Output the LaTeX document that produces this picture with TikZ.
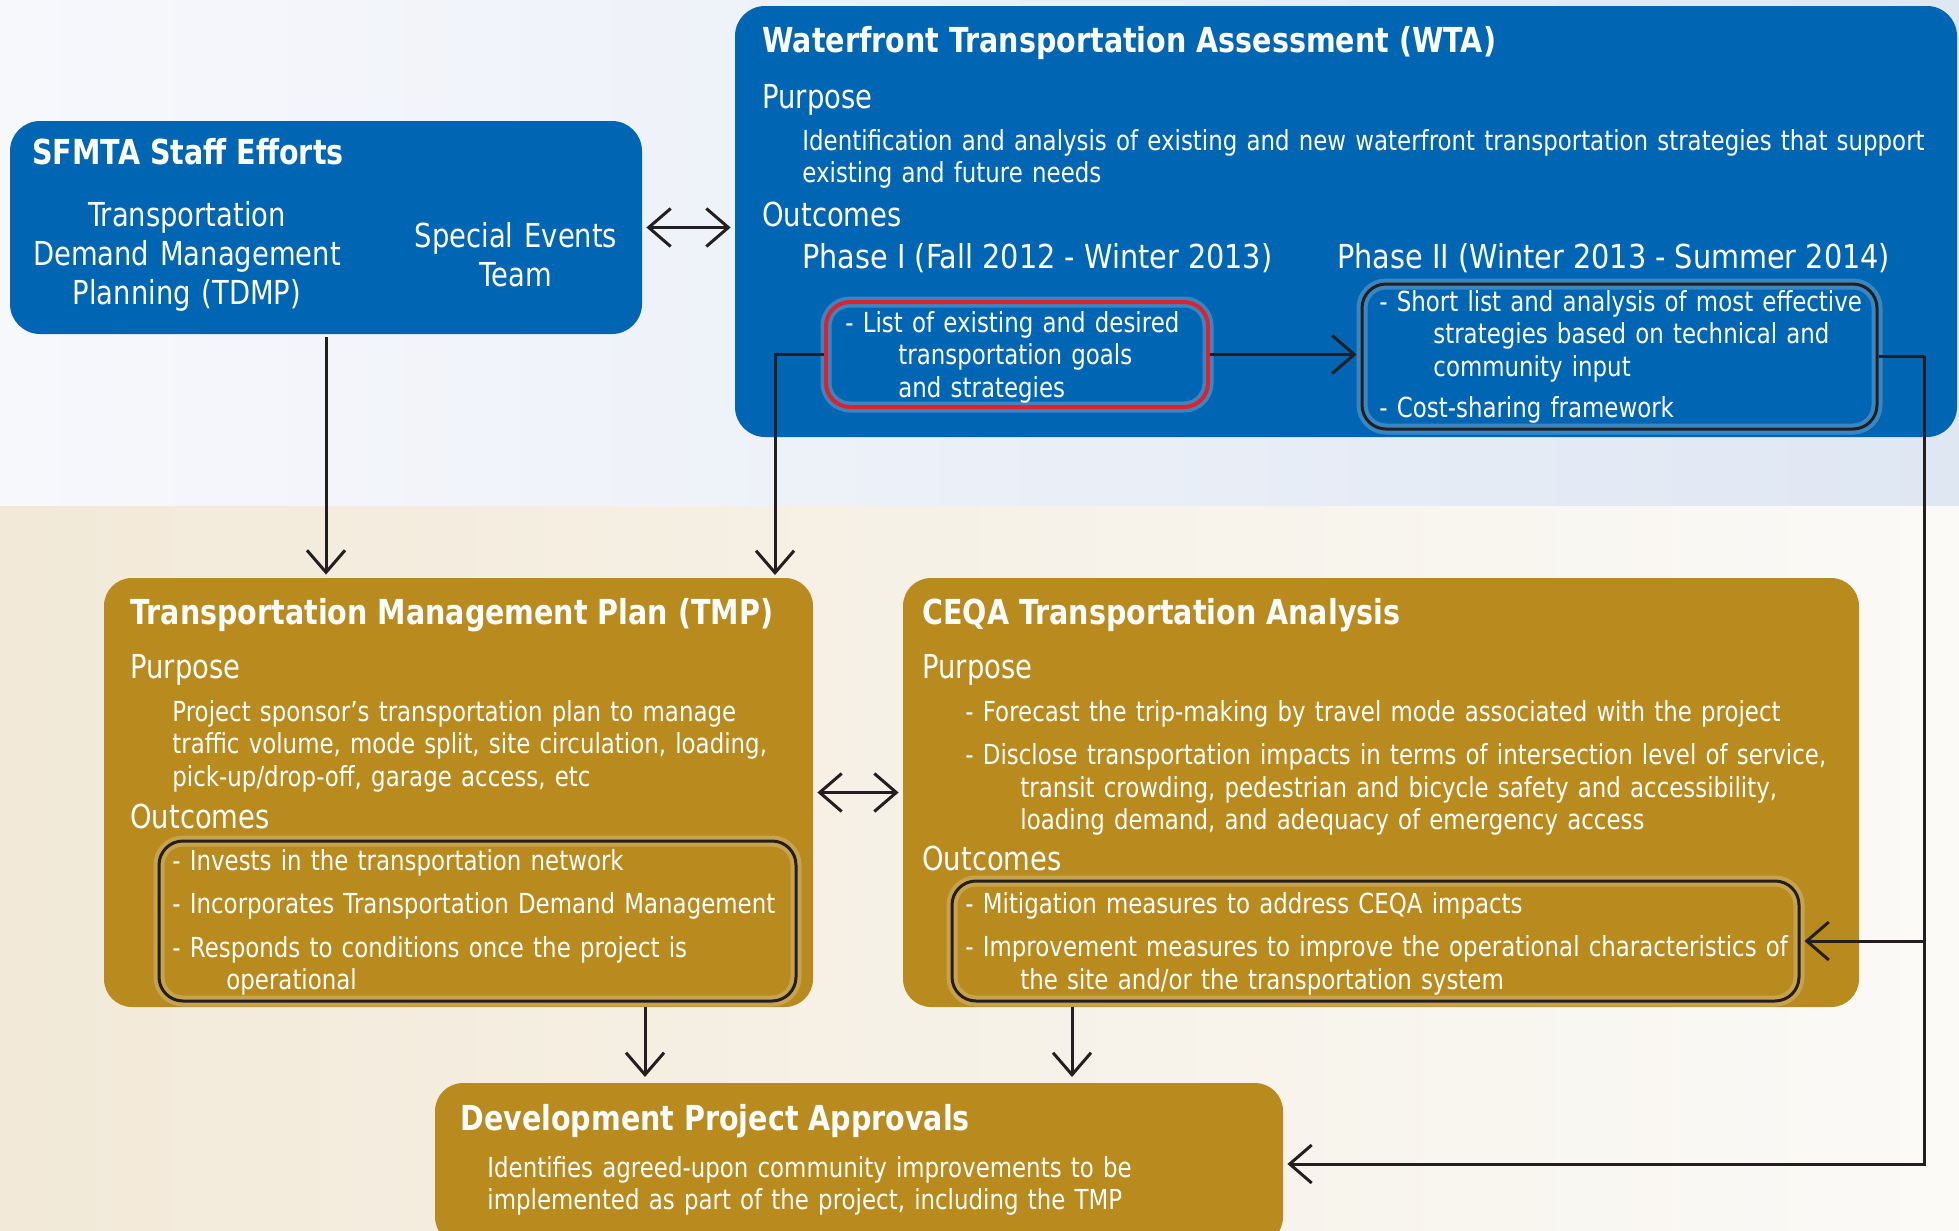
\documentclass[tikz,border=0pt]{standalone}
\usepackage{fontspec}
\setmainfont{DejaVu Sans}[FakeStretch=0.83]
\newfontfamily\phasefont{DejaVu Sans}[FakeStretch=0.87]
\usetikzlibrary{arrows.meta,fit,calc}
\definecolor{wtablue}{HTML}{0066B3}
\definecolor{gold}{HTML}{B98A1D}
\definecolor{redb}{HTML}{E3202A}
\definecolor{ink}{HTML}{231F20}
\definecolor{bgtopl}{HTML}{F7F8FC}
\definecolor{bgtopr}{HTML}{DFE7F3}
\definecolor{bgbotl}{HTML}{F2E9D8}
\definecolor{bgbotr}{HTML}{FBFAF7}
\begin{document}
\begin{tikzpicture}[x=0.5pt,y=-0.5pt,
  bluebox/.style={fill=wtablue, rounded corners=15pt, inner sep=0pt},
  goldbox/.style={fill=gold, rounded corners=14pt, inner sep=0pt},
  inbox/.style={draw=ink, line width=1.5pt, rounded corners=12pt, inner sep=0pt,
     preaction={draw=white, line width=5.5pt, draw opacity=0.22}},
  redbox/.style={draw=redb, line width=2pt, rounded corners=12pt, inner sep=0pt,
     preaction={draw=white, line width=5.5pt, draw opacity=0.22}},
  ttl/.style={anchor=base west, inner sep=0pt, text=white, font=\fontsize{17.2pt}{20pt}\selectfont\bfseries},
  hd/.style={anchor=base west, inner sep=0pt, text=white, font=\fontsize{16.5pt}{19.5pt}\selectfont},
  ph/.style={anchor=base west, inner sep=0pt, text=white, font=\fontsize{16.5pt}{19.5pt}\phasefont},
  ctr/.style={anchor=base, inner sep=0pt, text=white, align=center, text width=170pt, font=\fontsize{16.5pt}{19.5pt}\selectfont},
  bd/.style={anchor=base west, inner sep=0pt, text=white, align=left, text width=620pt, font=\fontsize{13.8pt}{16.25pt}\selectfont},
  arr/.style={draw=ink, line width=1.5pt, -{Straight Barb[length=11pt,width=19pt]}},
  dbl/.style={draw=ink, line width=1.5pt, {Straight Barb[length=11pt,width=19pt]}-{Straight Barb[length=11pt,width=19pt]}},
  ln/.style={draw=ink, line width=1.5pt}
]
\useasboundingbox (0,0) rectangle (1959,1231);
% background
\shade[left color=bgtopl, right color=bgtopr] (0,0) rectangle (1959,506);
\shade[left color=bgbotl, right color=bgbotr] (0,506) rectangle (1959,1231);

% boxes
\node[bluebox, fit={(10,121) (642,334)}] (sfmta) {};
\node[bluebox, fit={(735,6) (1957,437)}] (wta) {};
\node[goldbox, fit={(104,578) (813,1007)}] (tmp) {};
\node[goldbox, fit={(903,578) (1859,1007)}] (ceqa) {};
\node[goldbox, fit={(435,1083) (1283,1245)}] (dev) {};
\node[redbox, fit={(826,302) (1208,407)}] (red) {};
\node[inbox, fit={(1362,284) (1877,429)}] (p2) {};
\node[inbox, fit={(159,841) (796,1001)}] (tmpout) {};
\node[inbox, fit={(952,881) (1799,1001)}] (ceqaout) {};

% SFMTA text
\node[ttl] (t1) at (32,164) {SFMTA Staff Efforts};
\node[ctr] (t2) at (187,226) {Transportation\\Demand Management\\Planning (TDMP)};
\node[ctr] (t3) at (516,247) {Special Events\\Team};

% WTA text
\node[ttl] (t4) at (762,52) {Waterfront Transportation Assessment (WTA)};
\node[hd] (t5) at (762,108) {Purpose};
\node[bd] (t6) at (802,150) {Identification and analysis of existing and new waterfront transportation strategies that support\\existing and future needs};
\node[hd] (t7) at (762,226) {Outcomes};
\node[ph] (t8) at (802,268) {Phase I (Fall 2012 - Winter 2013)};
\node[ph] (t9) at (1337,268) {Phase II (Winter 2013 - Summer 2014)};
\node[bd] (t10) at (845,332) {- List of existing and desired\\\hspace*{26.5pt}transportation goals\\\hspace*{26.5pt}and strategies};
\node[bd] (t11) at (1379,311) {- Short list and analysis of most effective\\\hspace*{27pt}strategies based on technical and\\\hspace*{27pt}community input\\[4.5pt]- Cost-sharing framework};

% TMP text
\node[ttl] (t12) at (130,624) {Transportation Management Plan (TMP)};
\node[hd] (t13) at (130,678) {Purpose};
\node[bd] (t14) at (172,721) {Project sponsor’s transportation plan to manage\\traffic volume, mode split, site circulation, loading,\\pick-up/drop-off, garage access, etc};
\node[hd] (t15) at (130,828) {Outcomes};
\node[bd] (t16) at (172,870) {- Invests in the transportation network\\[5.5pt]- Incorporates Transportation Demand Management\\[5.5pt]- Responds to conditions once the project is\\\hspace*{27pt}operational};

% CEQA text
\node[ttl] (t17) at (922,624) {CEQA Transportation Analysis};
\node[hd] (t18) at (922,678) {Purpose};
\node[bd] (t19) at (965,721) {- Forecast the trip-making by travel mode associated with the project\\[5.5pt]- Disclose transportation impacts in terms of intersection level of service,\\\hspace*{27.5pt}transit crowding, pedestrian and bicycle safety and accessibility,\\\hspace*{27.5pt}loading demand, and adequacy of emergency access};
\node[hd] (t20) at (922,870) {Outcomes};
\node[bd] (t21) at (965,913) {- Mitigation measures to address CEQA impacts\\[5.5pt]- Improvement measures to improve the operational characteristics of\\\hspace*{27.5pt}the site and/or the transportation system};

% Dev text
\node[ttl] (t22) at (460,1130) {Development Project Approvals};
\node[bd] (t23) at (487,1177) {Identifies agreed-upon community improvements to be\\implemented as part of the project, including the TMP};

% connector coordinates
\coordinate (rt) at (1924,356);
\coordinate (tmpin) at (775,578);
\coordinate (devin1) at (645,1083);
\coordinate (devin2) at (1072,1083);

% connectors
\draw[dbl, shorten <=2pt, shorten >=2pt] (sfmta.east) -- (sfmta.east -| wta.west);
\draw[arr, shorten <=1.5pt, shorten >=1.5pt] (sfmta.south) -- (sfmta.south |- tmp.north);
\draw[arr, shorten >=1.5pt] (red.west) -| (tmpin);
\draw[arr, shorten <=0pt, shorten >=2pt] (red.east) -- (red.east -| p2.west);
\draw[ln] (p2.east) -- (p2.east -| rt) -- (rt);
\draw[arr, shorten >=2pt] (rt) |- (dev.east);
\draw[arr, shorten >=2pt] (rt |- ceqaout.east) -- (ceqaout.east);
\draw[dbl, shorten <=2pt, shorten >=2pt] (tmp.east) -- (tmp.east -| ceqa.west);
\draw[arr, shorten >=3pt] (devin1 |- tmp.south) -- (devin1);
\draw[arr, shorten >=3pt] (devin2 |- ceqa.south) -- (devin2);
\end{tikzpicture}
\end{document}
